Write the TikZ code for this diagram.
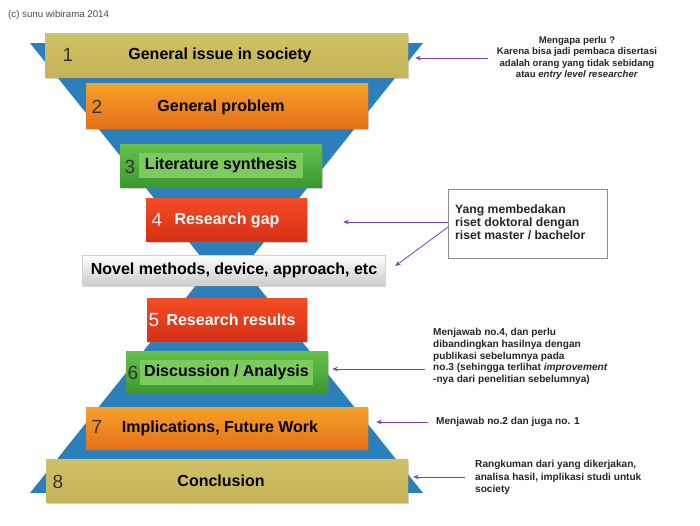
\documentclass[tikz,border=0pt]{standalone}
\usepackage{fontspec}
\setmainfont{Liberation Sans}
\usetikzlibrary{arrows.meta,shadows}
\definecolor{funblue}{HTML}{2B7FBB}
\definecolor{oliveT}{HTML}{D0C266}
\definecolor{oliveB}{HTML}{C4B357}
\definecolor{orangeT}{HTML}{F5A12B}
\definecolor{orangeB}{HTML}{E57018}
\definecolor{greenT}{HTML}{66C24C}
\definecolor{greenB}{HTML}{3A9830}
\definecolor{greenL}{HTML}{7CCB5F}
\definecolor{redT}{HTML}{F44C25}
\definecolor{redB}{HTML}{D63017}
\definecolor{greyB}{HTML}{CDCDCD}
\definecolor{purp}{HTML}{7E3FA3}
\definecolor{numdark}{HTML}{333333}
\tikzset{
  bar/.style={rectangle, inner sep=0pt, draw=none,
    drop shadow={shadow xshift=0.8pt, shadow yshift=-1.6pt, opacity=0.35}},
  olivebar/.style={bar, top color=oliveT, bottom color=oliveB},
  orangebar/.style={bar, top color=orangeT, bottom color=orangeB},
  greenbar/.style={bar, top color=greenT, bottom color=greenB},
  redbar/.style={bar, top color=redT, bottom color=redB},
  greybar/.style={bar, top color=white, bottom color=greyB, draw=black!18},
  lbl/.style={font=\bfseries\fontsize{16}{18}\selectfont, inner sep=0pt},
  num/.style={font=\fontsize{19}{21}\selectfont, inner sep=0pt, text=numdark},
  note/.style={font=\bfseries\fontsize{9.6}{11.4}\selectfont, inner sep=0pt, text=black!85},
  arr/.style={draw=purp, line width=0.8pt, -{Stealth[length=5.5pt,width=4.5pt]}},
}
\begin{document}
\begin{tikzpicture}[x=1pt,y=-1pt]
\useasboundingbox (0,0) rectangle (700,525);
\fill[white] (0,0) rectangle (700,525);

% funnel and pyramid
\fill[funblue] (30,43) -- (423,43) -- (226.5,289) -- cycle;
\fill[funblue] (30,493) -- (423,493) -- (226.5,247) -- cycle;

% copyright
\node[font=\fontsize{9.7}{11}\selectfont, text=black!70, anchor=west, inner sep=0pt] (copy) at (8,15) {(c) sunu wibirama 2014};

% bars
\node[olivebar, minimum width=363pt, minimum height=44pt] (b1) at (226.5,55) {};
\node[orangebar, minimum width=282pt, minimum height=45pt] (b2) at (227,105.5) {};
\node[greenbar, minimum width=202pt, minimum height=43pt] (b3) at (221,165.5) {};
\node[redbar, minimum width=161pt, minimum height=43pt] (b4) at (226.5,219.5) {};
\node[greybar, minimum width=303pt, minimum height=30pt] (b5) at (233.5,270) {};
\node[redbar, minimum width=160pt, minimum height=43pt] (b6) at (227,319.5) {};
\node[greenbar, minimum width=202pt, minimum height=42pt] (b7) at (227,372) {};
\node[orangebar, minimum width=282pt, minimum height=42pt] (b8) at (227,428) {};
\node[olivebar, minimum width=362pt, minimum height=43pt] (b9) at (227,480.5) {};

% labels
\node[lbl] (t1) at (220,55) {General issue in society};
\node[lbl] (t2) at (221,107) {General problem};
\node[lbl, fill=greenL, minimum width=164pt, minimum height=25pt] (t3) at (221,165.5) {Literature synthesis};
\node[lbl, text=white] (t4) at (227,220) {Research gap};
\node[lbl] (t5) at (234,270) {Novel methods, device, approach, etc};
\node[lbl, text=white] (t6) at (231,320) {Research results};
\node[lbl, fill=greenL, minimum width=173pt, minimum height=25pt] (t7) at (226.5,372.5) {Discussion / Analysis};
\node[lbl] (t8) at (220,428) {Implications, Future Work};
\node[lbl] (t9) at (221,481) {Conclusion};

% numbers
\node[num] (n1) at (68,55) {1};
\node[num] (n2) at (97,107) {2};
\node[num] (n3) at (130,167) {3};
\node[num, text=red!12] (n4) at (157,220) {4};
\node[num, text=white] (n5) at (154,320) {5};
\node[num] (n6) at (133,373) {6};
\node[num] (n7) at (97,427) {7};
\node[num] (n8) at (58,482) {8};

% notes
\node[note, align=center] (a1) at (577,58) {Mengapa perlu ?\\Karena bisa jadi pembaca disertasi\\adalah orang yang tidak sebidang\\atau \textit{entry level researcher}};
\node[draw=black!45, line width=0.7pt, minimum width=159pt, minimum height=69pt, inner sep=0pt] (a2) at (527.5,223.5) {};
\node[font=\bfseries\fontsize{12.2}{13.2}\selectfont, align=left, anchor=west, inner sep=0pt, text=black!85] (a2t) at (455,222) {Yang membedakan\\riset doktoral dengan\\riset master / bachelor};
\node[note, align=left, anchor=west, font=\bfseries\fontsize{10.1}{11.8}\selectfont] (a3) at (433,356.5) {Menjawab no.4, dan perlu\\dibandingkan hasilnya dengan\\publikasi sebelumnya pada\\no.3 (sehingga terlihat \textit{improvement}\\-nya dari penelitian sebelumnya)};
\node[note, anchor=west, font=\bfseries\fontsize{10.1}{11.8}\selectfont] (a4) at (436,422) {Menjawab no.2 dan juga no. 1};
\node[note, align=left, anchor=west, font=\bfseries\fontsize{10.1}{12.5}\selectfont] (a5) at (475,477.5) {Rangkuman dari yang dikerjakan,\\analisa hasil, implikasi studi untuk\\society};

% arrow anchors
\coordinate (s1) at (488,58);
\coordinate (s2a) at (448,222);
\coordinate (s2b) at (448,227);
\coordinate (s3) at (425,369);
\coordinate (s4) at (428,422);
\coordinate (s5) at (465,477);

\draw[arr] (s1) -- ([xshift=7pt]b1.east |- s1);
\draw[arr] (s2a) -- ([xshift=36pt]b4.east |- s2a);
\draw[arr] (s2b) -- ([shift={(10pt,4pt)}]b5.east);
\draw[arr] (s3) -- ([xshift=4pt]b7.east |- s3);
\draw[arr] (s4) -- ([xshift=8pt]b8.east |- s4);
\draw[arr] (s5) -- ([xshift=5pt]b9.east |- s5);
\end{tikzpicture}
\end{document}
